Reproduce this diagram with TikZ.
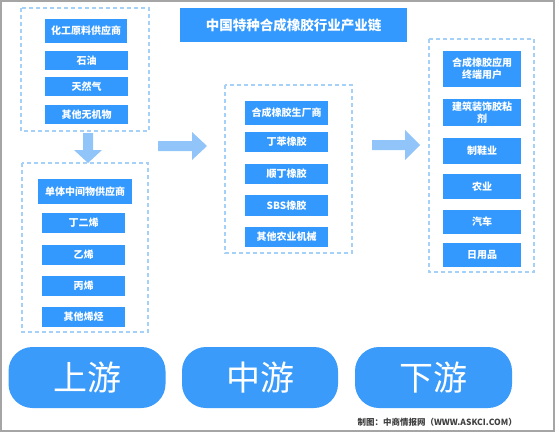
\documentclass[tikz,border=0pt]{standalone}
\usepackage{fontspec}
\setmainfont{Noto Sans CJK SC}
\usetikzlibrary{positioning}

\definecolor{boxblue}{RGB}{51,153,255}
\definecolor{pillblue}{RGB}{58,155,250}
\definecolor{dashblue}{RGB}{165,208,247}
\definecolor{arrowblue}{RGB}{145,197,250}
\definecolor{framegray}{RGB}{165,165,165}
\definecolor{creditgray}{RGB}{64,64,64}

\begin{document}
\begin{tikzpicture}[x=1pt, y=-1pt,
  every node/.style={font=\bfseries\fontsize{10}{12}\selectfont, align=center, text=white, inner sep=0pt},
  item/.style={rectangle, fill=boxblue, minimum width=83pt, minimum height=20pt},
  head/.style={item, minimum height=24pt},
  group/.style={draw=dashblue, line width=1.2pt, dash pattern=on 4pt off 3pt},
  stage/.style={rectangle, rounded corners=24pt, fill=pillblue, minimum width=157pt, minimum height=61pt, font=\fontsize{34}{34}\selectfont},
  fatarrow/.style={fill=arrowblue}
]

\useasboundingbox (0,0) rectangle (556,433);
\draw[framegray, line width=1.5pt] (1,1) rectangle (554,431);

% title
\node[rectangle, fill=boxblue, minimum width=227pt, minimum height=34pt, font=\bfseries\fontsize{13.5}{14}\selectfont] (title) at (293.5,25) {中国特种合成橡胶行业产业链};

% upstream
\draw[group] (21,8) rectangle (149,131);
\node[head, minimum width=82pt] (raw) at (86,31) {化工原料供应商};
\node[item, minimum height=19pt] (oil) at (86.5,60.5) {石油};
\node[item, minimum height=19pt] (gas) at (86.5,86.5) {天然气};
\node[item, minimum height=19pt] (inorg) at (86.5,114.5) {其他无机物};

\draw[group] (22,163) rectangle (148,332);
\node[head, minimum width=94pt, minimum height=25pt] (mono) at (85,191.5) {单体中间物供应商};
\node[item] (butad) at (83.5,223) {丁二烯};
\node[item] (ethyl) at (83.5,255) {乙烯};
\node[item] (propyl) at (83.5,286) {丙烯};
\node[item] (olefin) at (83.5,317) {其他烯烃};

% midstream
\draw[group] (225,85) rectangle (352,253);
\node[head] (maker) at (286.5,113) {合成橡胶生厂商};
\node[item] (sbr) at (286.5,141.5) {丁苯橡胶};
\node[item] (br) at (286.5,173.5) {顺丁橡胶};
\node[item, minimum height=21pt] (sbs) at (286.5,205.5) {SBS橡胶};
\node[item] (other) at (286.5,237) {其他农业机械};

% downstream
\draw[group] (429,39) rectangle (534,272);
\node[item, minimum width=78pt, minimum height=36pt] (user) at (482,69) {合成橡胶应用\\终端用户};
\node[item, minimum width=78pt, minimum height=26pt] (glue) at (482,112.5) {建筑装饰胶粘\\剂};
\node[item, minimum width=78pt, minimum height=26pt] (shoe) at (482,151) {制鞋业};
\node[item, minimum width=78pt, minimum height=25pt] (farm) at (482,186.5) {农业};
\node[item, minimum width=78pt, minimum height=24pt] (car) at (482,222) {汽车};
\node[item, minimum width=78pt, minimum height=24pt] (daily) at (482,255) {日用品};

% arrows
\fill[fatarrow] (83,133) -- (93,133) -- (93,150) -- (102,150) -- (88,163) -- (74,150) -- (83,150) -- cycle;
\fill[fatarrow] (158,141) -- (192,141) -- (192,132) -- (207,146) -- (192,160) -- (192,151) -- (158,151) -- cycle;
\fill[fatarrow] (372,140) -- (405,140) -- (405,130) -- (420,145) -- (405,160) -- (405,150) -- (372,150) -- cycle;

% stages
\node[stage] (up) at (87,377.5) {上游};
\node[stage, minimum width=156pt] (mid) at (260,377.5) {中游};
\node[stage] (down) at (433.5,377.5) {下游};

\node[anchor=east, text=creditgray, font=\bfseries\fontsize{8.5}{9}\selectfont] (credit) at (517,422) {制图：中商情报网（WWW.ASKCI.COM）};

\end{tikzpicture}
\end{document}
